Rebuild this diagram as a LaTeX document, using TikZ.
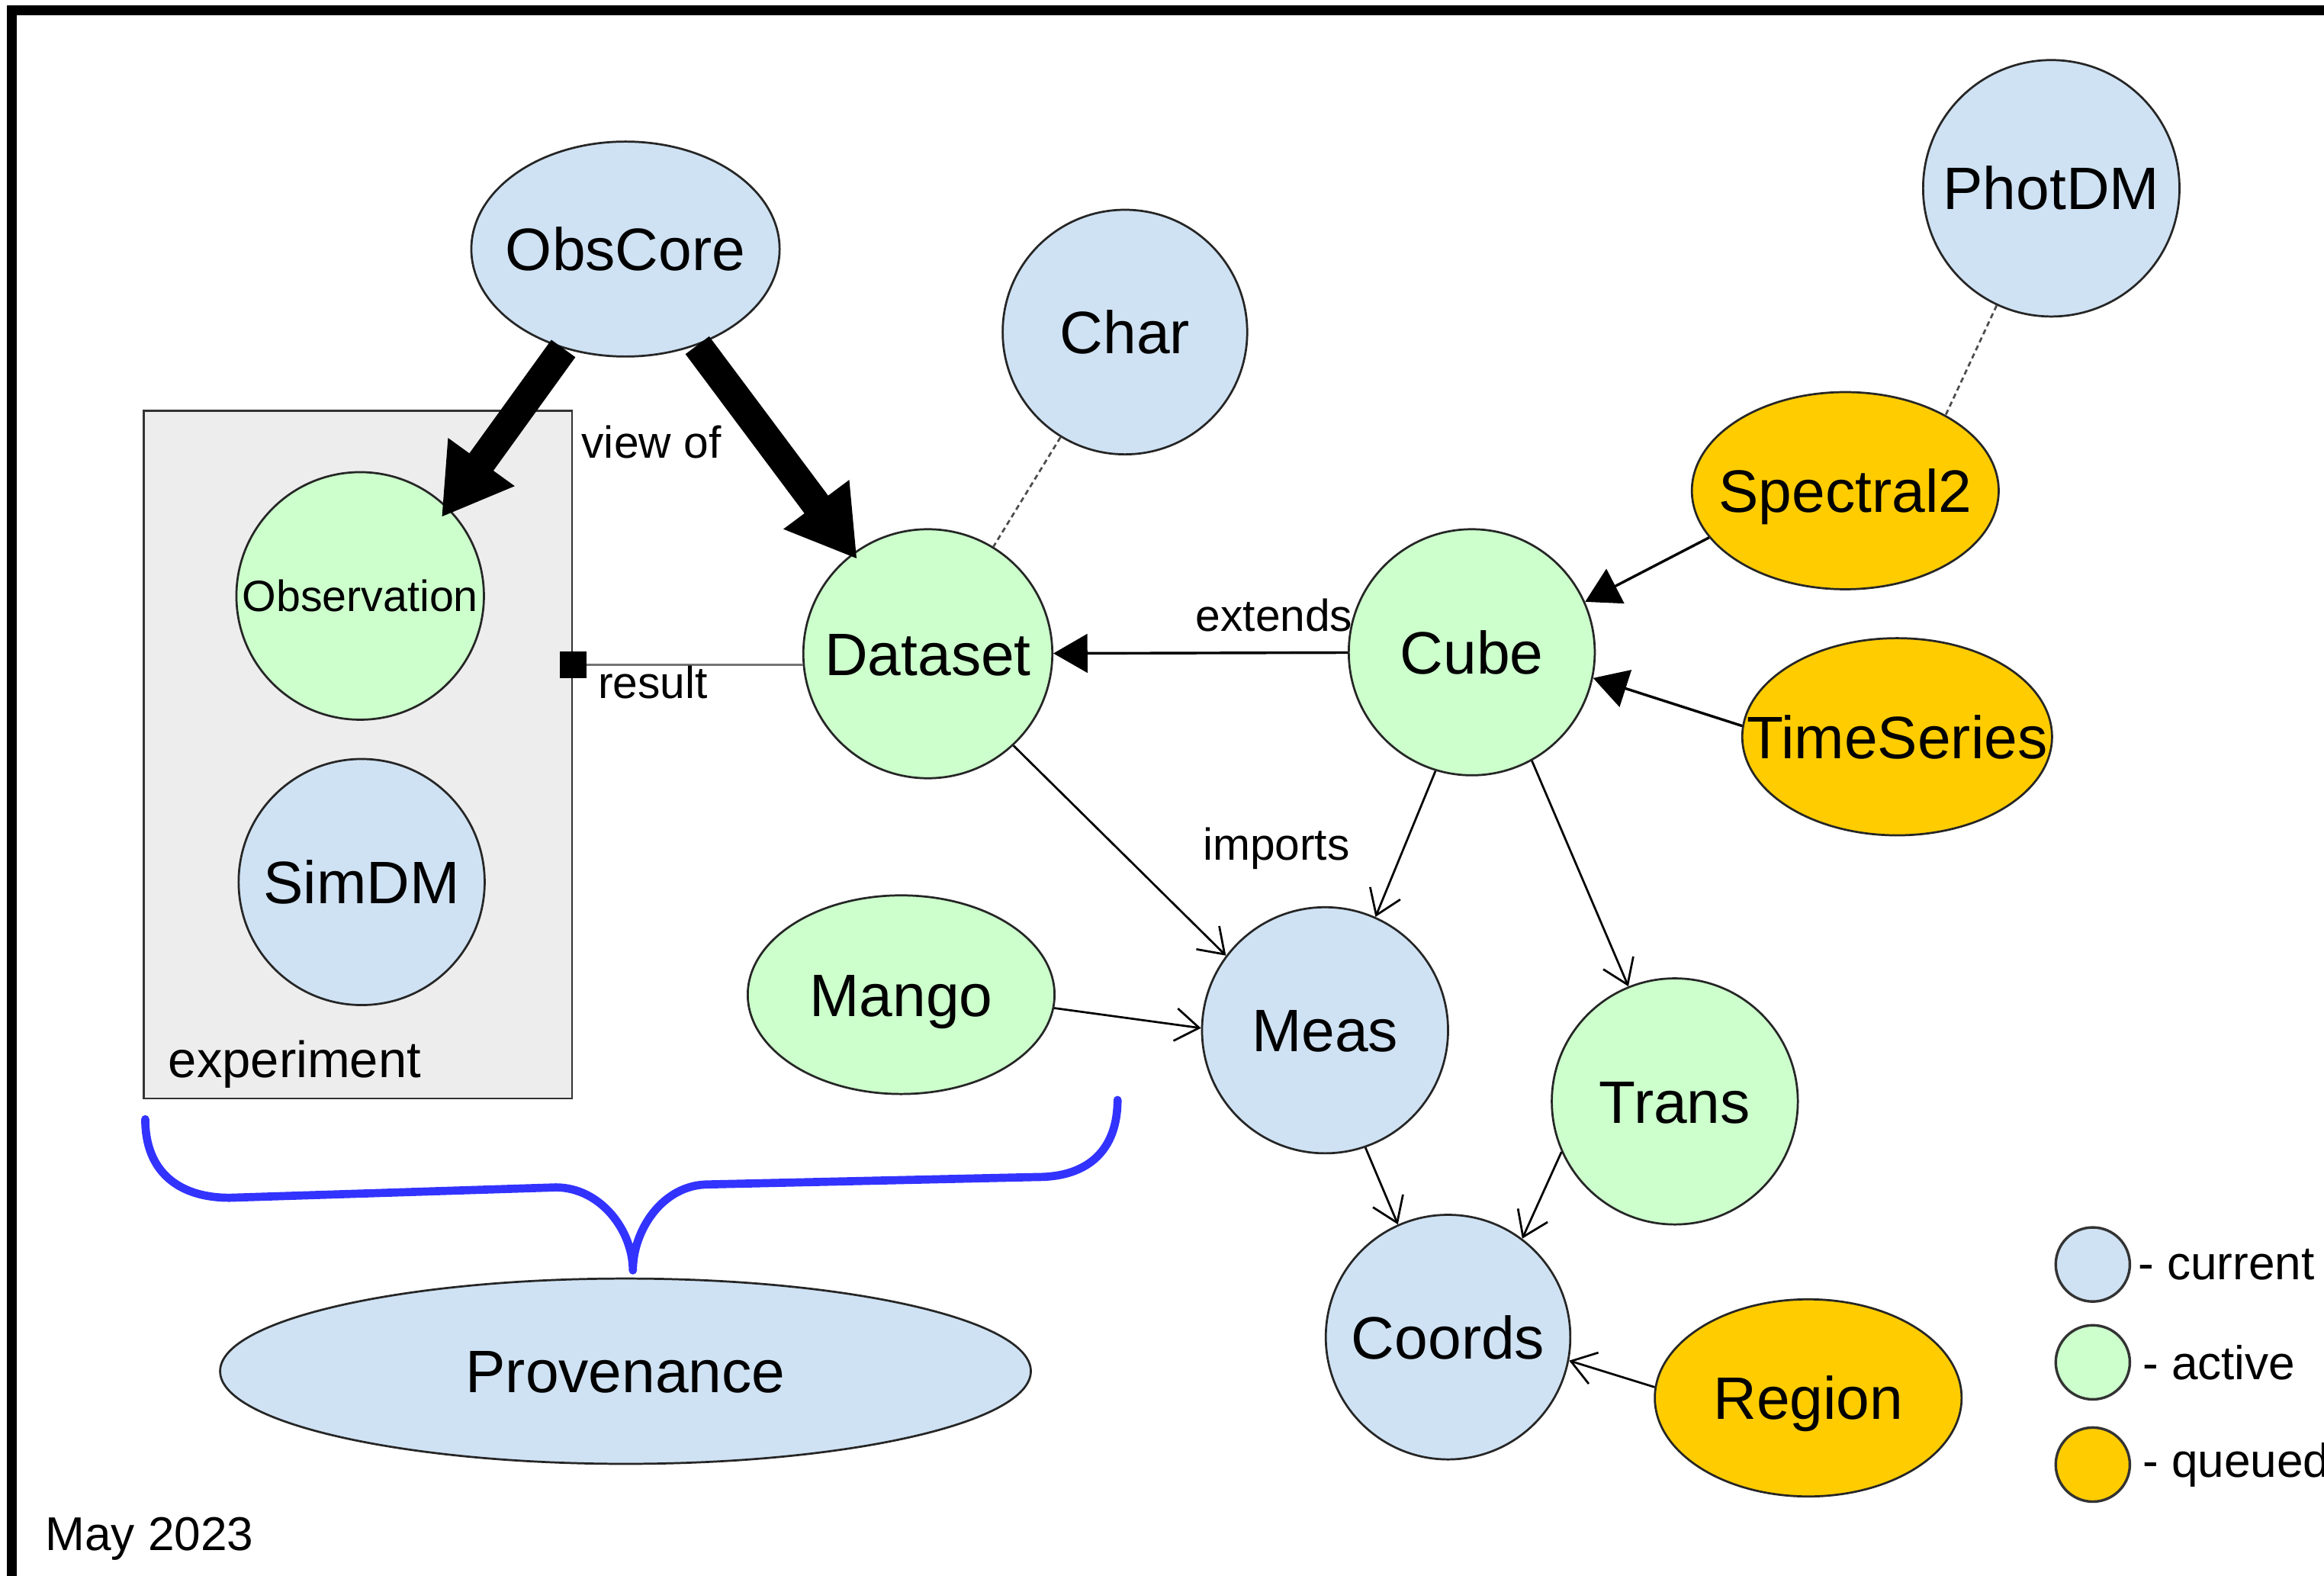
\documentclass[tikz,border=0pt]{standalone}
\usepackage{fontspec}
\setmainfont{Liberation Sans}
\usetikzlibrary{arrows.meta,shapes.geometric,positioning}
\definecolor{currentblue}{HTML}{CFE2F3}
\definecolor{activegreen}{HTML}{CCFFCC}
\definecolor{queuedamber}{HTML}{FFCC00}
\definecolor{boxgray}{HTML}{EDEDED}
\definecolor{braceblue}{HTML}{3333FF}

\begin{document}
\begin{tikzpicture}
    [
    x=0.1mm, y=-0.1mm,
    model/.style={draw=black!85, line width=0.4pt, inner sep=0pt, font=\fontsize{11.5}{13}\selectfont, text height=3.6mm, text depth=0.7mm},
    current/.style={model, fill=currentblue},
    active/.style={model, fill=activegreen},
    queued/.style={model, fill=queuedamber},
    modelcircle/.style={circle, minimum size=16.6mm},
    modeloval/.style={ellipse, inner xsep=-4mm, inner ysep=0pt, minimum width=20.7mm, minimum height=13.3mm},
    expbox/.style={draw=black!80, fill=boxgray, line width=0.4pt, minimum width=28.9mm, minimum height=46.4mm, inner sep=0pt},
    plain/.style={inner sep=0pt},
    edgelabel/.style={font=\fontsize{8.6}{10}\selectfont},
    legtext/.style={font=\fontsize{9.1}{11}\selectfont, inner sep=0.4mm},
    legend/.style={draw=black!80, line width=0.5pt, circle, minimum size=5mm, inner sep=0pt},
    fatarrow/.style={line width=2mm, -{Triangle[length=4.6mm,width=5.2mm]}},
    extendarrow/.style={line width=0.5pt, -{Triangle[length=2.3mm,width=2.6mm]}},
    importarrow/.style={line width=0.4pt, -{Straight Barb[length=1.6mm,width=2.2mm]}},
    dashline/.style={draw=black!70, line width=0.4pt, dash pattern=on 1pt off 0.7pt},
    resultline/.style={draw=black!55, line width=0.5pt, -{Square[length=1.8mm,width=1.8mm,color=black]}, shorten >=-0.9mm},
    brace/.style={draw=braceblue, line width=0.55mm, line cap=round, line join=round},
    ]
    \useasboundingbox (0,0) rectangle (1568,1063);
    \draw[line width=0.65mm] (8,1063) -- (8,7) -- (1568,7);

    \node[expbox] (expbox) at (241.5,509) {};
    \node[plain, font=\fontsize{9.8}{11}\selectfont, anchor=west] (explabel) at (113,718) {experiment};

    \node[current, modeloval, minimum width=20.8mm, minimum height=14.5mm] (obscore) at (422,168) {ObsCore};
    \node[current, modelcircle, minimum size=16.5mm] (char) at (759,224) {Char};
    \node[current, modelcircle, minimum size=17.3mm] (photdm) at (1384,127) {PhotDM};
    \node[queued, modeloval] (spectral) at (1245,331) {Spectral2};
    \node[active, modelcircle, minimum size=16.7mm, font=\fontsize{8.4}{10}\selectfont, text height=2.6mm, text depth=0.5mm] (observation) at (243,402) {Observation};
    \node[active, modelcircle, minimum size=16.8mm] (dataset) at (626,441) {Dataset};
    \node[active, modelcircle] (cube) at (993,440) {Cube};
    \node[queued, modeloval, minimum width=20.9mm] (timeseries) at (1280,497) {TimeSeries};
    \node[current, modelcircle] (simdm) at (244,595) {SimDM};
    \node[active, modeloval, minimum height=13.4mm] (mango) at (608,671) {Mango};
    \node[current, modelcircle] (meas) at (894,695) {Meas};
    \node[active, modelcircle] (trans) at (1130,743) {Trans};
    \node[current, modelcircle, minimum size=16.5mm] (coords) at (977,902) {Coords};
    \node[queued, modeloval] (region) at (1220,943) {Region};
    \node[current, modeloval, minimum width=54.7mm, minimum height=12.5mm] (provenance) at (422,925) {Provenance};

    \draw[fatarrow, shorten >=-0.8mm] (obscore.238) -- (observation.45);
    \draw[fatarrow, shorten >=-0.5mm] (obscore) -- (dataset)
        node[edgelabel, pos=0.465, left=1.1mm] {view of};
    \draw[resultline] (dataset.185) -- (dataset.185 -| expbox.east)
        node[edgelabel, pos=1, anchor=north west, inner sep=0pt, xshift=1.6mm, yshift=0mm] {result};
    \draw[dashline] (char) -- (dataset);
    \draw[dashline] (photdm.245) -- (spectral.37);
    \draw[extendarrow] (cube) -- (dataset)
        node[edgelabel, pos=0.25, above=0.5pt] {extends};
    \draw[extendarrow] (spectral.199) -- (cube.24);
    \draw[extendarrow] (timeseries.176) -- (cube.-12);
    \draw[importarrow] (dataset.-47) -- (meas.143);
    \draw[importarrow] (cube.253) -- (meas.66)
        node[edgelabel, pos=0.53, left=2.4mm] {imports};
    \draw[importarrow] (cube.-61) -- (trans.112);
    \draw[importarrow] (mango.-5) -- (meas.179);
    \draw[importarrow] (meas.-71) -- (coords.114);
    \draw[importarrow] (trans.204) -- (coords.53);
    \draw[importarrow] (region.176) -- (coords.-11);

    \draw[brace] (98,755) .. controls (98,790) and (120,808) .. (155,808) -- (375,801)
        .. controls (405,801) and (427,830) .. (427,857)
        .. controls (427,830) and (447,799) .. (478,799) -- (700,794)
        .. controls (735,794) and (754,775) .. (754,742);

    \node[legend, fill=currentblue] (legcurrent) at (1412,853) {};
    \node[legend, fill=activegreen] (legactive) at (1412,919) {};
    \node[legend, fill=queuedamber] (legqueued) at (1412,988) {};
    \node[legtext, right=0pt of legcurrent] (legcurrenttext) {- current};
    \node[legtext, right=0.3mm of legactive] (legactivetext) {- active};
    \node[legtext, right=0.3mm of legqueued] (legqueuedtext) {- queued};

    \node[plain, font=\fontsize{9.1}{11}\selectfont, anchor=west] (date) at (30,1038) {May 2023};
\end{tikzpicture}
\end{document}
